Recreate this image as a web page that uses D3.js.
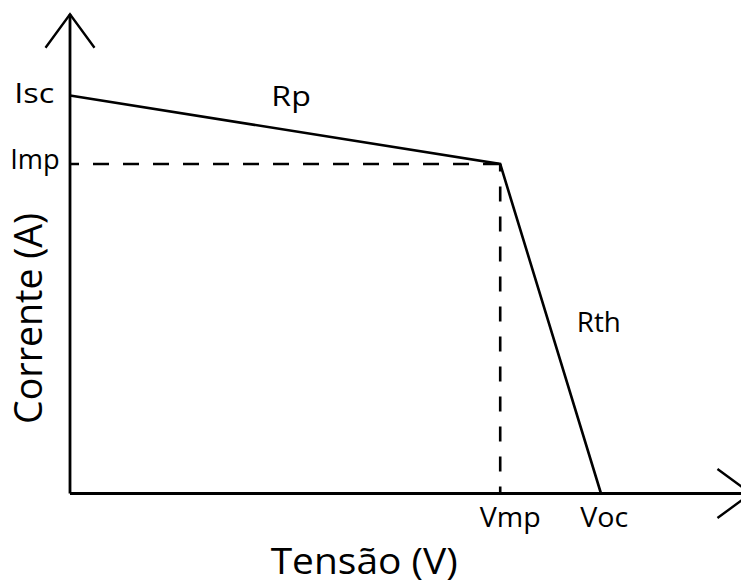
<!DOCTYPE html>
<html>
<head>
<meta charset="utf-8">
<script src="https://cdn.jsdelivr.net/npm/d3@7"></script>
<style>
  html, body { margin: 0; padding: 0; background: #fff; }
  svg { display: block; }
  text { font-family: "Open Sans", "Noto Sans", sans-serif; fill: #000; }
</style>
</head>
<body>
<svg id="chart" width="741" height="584"></svg>
<script>
// Simplified I-V curve of a PV module (piecewise linear)
const voltage = [0, 17.5, 21.6];      // V: short circuit, max power point, open circuit
const current = [5.0, 4.14, 0];       // A
const pointNames = ["Isc", "MPP", "Voc"];
const axisMax = { v: 27.7, i: 6.02 }; // axis extent (arrow tips)
const yTickLabels = ["Isc", "Imp"];
const xTickLabels = ["Vmp", "Voc"];
const segmentLabels = ["Rp", "Rth"];
const xTitle = "Tensão (V)";
const yTitle = "Corrente (A)";

const svg = d3.select("#chart");
const x = d3.scaleLinear().domain([0, voltage[2]]).range([70, 601]);
const y = d3.scaleLinear().domain([0, current[0]]).range([493.5, 95.5]);

const pts = voltage.map((v, k) => ({ v, i: current[k], name: pointNames[k] }));
const mpp = pts[1];

const stroke = "#000";

// dashed guides to the max power point
svg.append("line")
  .attr("x1", x(0)).attr("y1", y(mpp.i))
  .attr("x2", x(mpp.v)).attr("y2", y(mpp.i))
  .attr("stroke", stroke).attr("stroke-width", 2.6)
  .attr("stroke-dasharray", "16,14").attr("stroke-dashoffset", 7);
svg.append("line")
  .attr("x1", x(mpp.v)).attr("y1", y(mpp.i))
  .attr("x2", x(mpp.v)).attr("y2", y(0))
  .attr("stroke", stroke).attr("stroke-width", 2.6)
  .attr("stroke-dasharray", "15,15").attr("stroke-dashoffset", 7.5);

// axes with open arrowheads
svg.append("line")
  .attr("x1", x(0)).attr("y1", y(0)).attr("x2", x(0)).attr("y2", y(axisMax.i))
  .attr("stroke", stroke).attr("stroke-width", 2.8);
svg.append("line")
  .attr("x1", x(0)).attr("y1", y(0)).attr("x2", x(axisMax.v)).attr("y2", y(0))
  .attr("stroke", stroke).attr("stroke-width", 2.8);

const yTip = [x(0), y(axisMax.i)];
svg.append("path")
  .attr("d", d3.line()([[yTip[0] - 24.5, yTip[1] + 33.5], yTip, [yTip[0] + 24.5, yTip[1] + 33.5]]))
  .attr("fill", "none").attr("stroke", stroke).attr("stroke-width", 2.4);
const xTip = [x(axisMax.v), y(0)];
svg.append("path")
  .attr("d", d3.line()([[xTip[0] - 33.5, xTip[1] - 24.5], xTip, [xTip[0] - 33.5, xTip[1] + 24.5]]))
  .attr("fill", "none").attr("stroke", stroke).attr("stroke-width", 2.4);

// I-V curve
svg.append("path")
  .datum(pts)
  .attr("d", d3.line().x(d => x(d.v)).y(d => y(d.i)))
  .attr("fill", "none").attr("stroke", stroke).attr("stroke-width", 2.6)
  .attr("stroke-linejoin", "miter");

// helper for condensed labels
function label(txt, cx, by, size, len, rotate) {
  const t = svg.append("text")
    .text(txt)
    .attr("font-size", size)
    .attr("text-anchor", "middle")
    .attr("textLength", len)
    .attr("lengthAdjust", "spacingAndGlyphs");
  if (rotate) {
    t.attr("transform", `translate(${cx},${by}) rotate(-90)`);
  } else {
    t.attr("x", cx).attr("y", by);
  }
  return t;
}

// current markers on the y axis
label(yTickLabels[0], x(0) - 35.7, y(current[0]) + 7.2, 28, 40);
label(yTickLabels[1], x(0) - 35, y(mpp.i) + 5.3, 28, 49.5);

// voltage markers on the x axis
label(xTickLabels[0], x(mpp.v) + 10, y(0) + 33.2, 28, 61);
label(xTickLabels[1], x(voltage[2]) + 3.2, y(0) + 33.2, 28, 48);

// segment resistances
label(segmentLabels[0], (x(voltage[0]) + x(voltage[1])) / 2 + 6, 105.7, 28, 39.5);
label(segmentLabels[1], 598.8, 332.3, 28, 44);

// axis titles
label(xTitle, 364.2, 574, 36, 187);
label(yTitle, 41.7, 318.4, 38, 211, true);
</script>
</body>
</html>
